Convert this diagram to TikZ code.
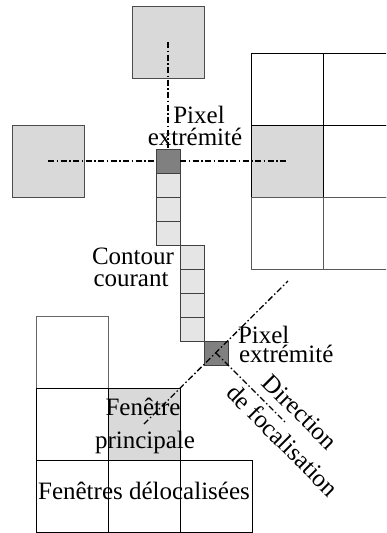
\documentclass[tikz,border=0pt]{standalone}
\usepackage{fontspec}
\setmainfont{Liberation Serif}
\begin{document}
\begin{tikzpicture}[x=1pt,y=-1pt,
  every node/.style={inner sep=0pt, outer sep=0pt},
  bigbox/.style={draw=black!70, line width=0.8pt, fill=black!15, minimum size=72pt},
  cell/.style={draw=black, line width=0.8pt, minimum size=72pt},
  graycell/.style={cell, fill=black!15},
  pix/.style={draw=black!75, line width=0.8pt, fill=black!10, minimum size=24pt},
  darkpix/.style={pix, fill=black!50},
  axis/.style={line width=1.3pt, dash pattern=on 6pt off 2.5pt on 1.5pt off 2.5pt},
  lbl/.style={font=\fontsize{25}{22}\selectfont, anchor=base}
]
\useasboundingbox (0,0) rectangle (386,533);
\clip (0,0) rectangle (386,533);
% top and left windows
\node[bigbox] (topw) at (168,42) {};
\node[bigbox] (leftw) at (48,161) {};
% right grid
\node[cell] (r11) at (287,89) {};
\node[cell] (r12) at (359,89) {};
\node[graycell] (r21) at (287,161) {};
\node[cell] (r22) at (359,161) {};
\node[cell, draw=black!65] (r31) at (287,233) {};
\node[cell, draw=black!65] (r32) at (359,233) {};
% bottom-left grid
\node[cell, draw=black!60] (b0) at (72,352) {};
\node[cell] (b1) at (72,424) {};
\node[graycell] (bmain) at (144,424) {};
\node[cell] (b21) at (72,496) {};
\node[cell] (b22) at (144,496) {};
\node[cell] (b23) at (216,496) {};
% contour pixels
\node[darkpix] (p0) at (168,161) {};
\node[pix] (p1) at (168,185) {};
\node[pix] (p2) at (168,209) {};
\node[pix] (p3) at (168,233) {};
\node[pix] (p4) at (192,257) {};
\node[pix] (p5) at (192,281) {};
\node[pix] (p6) at (192,305) {};
\node[pix] (p7) at (192,329) {};
\node[darkpix] (p8) at (216,353) {};
% axes
\draw[axis] (topw.center) -- (p0.north);
\draw[axis] (leftw.center) -- (p0.west);
\draw[axis] (p0.east) -- (r21.center);
\coordinate (diagend) at (288,281);
\coordinate (dirend) at (285,422);
\draw[axis] (bmain.center) -- (diagend);
\draw[axis] (p8.center) -- (dirend);
% labels
\node[lbl] (t1a) at (199,123) {Pixel};
\node[lbl] (t1b) at (195,145) {extrémité};
\node[lbl] (t2a) at (133,264) {Contour};
\node[lbl] (t2b) at (131,286) {courant};
\node[lbl, anchor=base west] (t3a) at (238,343) {Pixel};
\node[lbl, anchor=base west] (t3b) at (239,362) {extrémité};
\node[lbl] (t4a) at (143,415) {Fenêtre};
\node[lbl] (t4b) at (145,448) {principale};
\node[lbl] (t5) at (144,499) {Fenêtres délocalisées};
\node[font=\fontsize{25}{22}\selectfont, rotate=-45] (t6a) at (300,412) {Direction};
\node[font=\fontsize{25}{22}\selectfont, rotate=-45] (t6b) at (283,440) {de focalisation};
\end{tikzpicture}
\end{document}
